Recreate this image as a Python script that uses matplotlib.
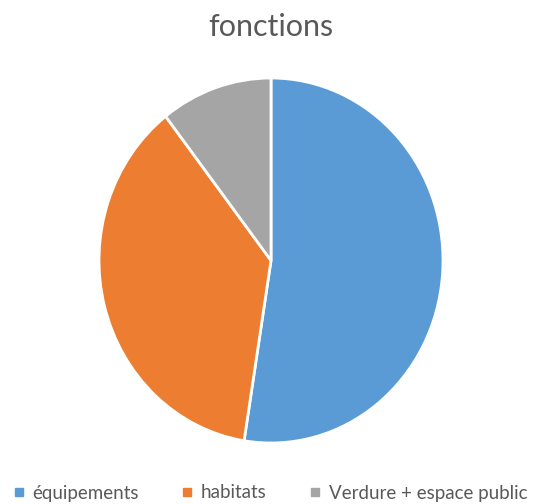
import matplotlib.pyplot as plt
from matplotlib.lines import Line2D

labels = ["équipements", "habitats", "Verdure + espace public"]
values = [52.5, 37.0, 10.5]
colors = ["#5B9BD5", "#ED7D31", "#A5A5A5"]
title = "fonctions"

plt.rcParams["font.family"] = ["Lato", "DejaVu Sans"]

fig = plt.figure(figsize=(5.34, 5.04), dpi=100)
ax = fig.add_axes([99 / 534, 61 / 504, 344 / 534, 365 / 504])
ax.pie(values, colors=colors, startangle=90, counterclock=False, radius=1,
       wedgeprops=dict(edgecolor="white", linewidth=2))
ax.set_aspect("auto")
ax.set_xlim(-1, 1)
ax.set_ylim(-1, 1)
ax.axis("off")

fig.text(271 / 534, 1 - 27 / 504, title, ha="center", va="center",
         fontsize=22, color="#595959")

handles = [Line2D([], [], marker="s", linestyle="none", markersize=6,
                  markerfacecolor=c, markeredgecolor=c) for c in colors]
fig.legend(handles, labels, loc="center", bbox_to_anchor=(0.505, 1 - 493 / 504),
           ncol=3, frameon=False, fontsize=13.5, labelcolor="#595959",
           handletextpad=0.4, columnspacing=2.2, handlelength=0.7)

fig.savefig("out.png", dpi=100)
